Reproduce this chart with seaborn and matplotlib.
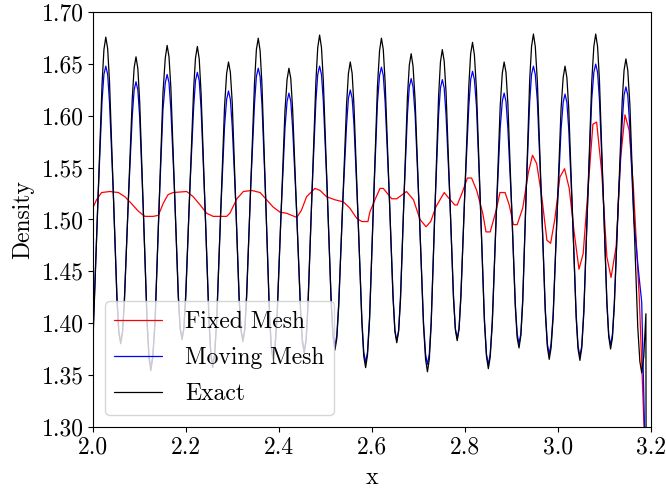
import matplotlib
matplotlib.use("Agg")
import matplotlib.pyplot as plt
import seaborn as sns

# Fixed mesh solution (red)
x_fixed = [2.000, 2.007, 2.018, 2.036, 2.054, 2.068, 2.083, 2.097, 2.111, 2.129,
           2.140, 2.151, 2.161, 2.172, 2.201, 2.215, 2.230, 2.244, 2.258, 2.287,
           2.294, 2.309, 2.323, 2.341, 2.359, 2.373, 2.387, 2.402, 2.416, 2.438,
           2.448, 2.459, 2.477, 2.488, 2.502, 2.520, 2.538, 2.552, 2.567, 2.578,
           2.591, 2.595, 2.606, 2.617, 2.624, 2.642, 2.653, 2.674, 2.689, 2.703,
           2.716, 2.726, 2.737, 2.755, 2.766, 2.778, 2.783, 2.793, 2.805, 2.814,
           2.825, 2.838, 2.845, 2.854, 2.867, 2.875, 2.886, 2.895, 2.904, 2.912,
           2.924, 2.936, 2.945, 2.954, 2.965, 2.976, 2.984, 2.993, 3.004, 3.014,
           3.024, 3.034, 3.045, 3.054, 3.065, 3.075, 3.083, 3.094, 3.105, 3.114,
           3.125, 3.135, 3.144, 3.153, 3.162, 3.175, 3.185, 3.187]
y_fixed = [1.512, 1.519, 1.526, 1.527, 1.526, 1.522, 1.515, 1.508, 1.503, 1.503,
           1.504, 1.516, 1.524, 1.526, 1.527, 1.522, 1.514, 1.506, 1.503, 1.503,
           1.506, 1.520, 1.527, 1.528, 1.526, 1.519, 1.512, 1.507, 1.506, 1.502,
           1.509, 1.522, 1.530, 1.528, 1.522, 1.519, 1.517, 1.511, 1.501, 1.498,
           1.498, 1.507, 1.519, 1.530, 1.530, 1.520, 1.520, 1.527, 1.519, 1.500,
           1.493, 1.498, 1.512, 1.526, 1.520, 1.514, 1.514, 1.525, 1.540, 1.540,
           1.528, 1.506, 1.488, 1.488, 1.509, 1.526, 1.526, 1.514, 1.495, 1.495,
           1.511, 1.545, 1.562, 1.554, 1.522, 1.480, 1.477, 1.500, 1.541, 1.549,
           1.530, 1.490, 1.452, 1.467, 1.532, 1.592, 1.594, 1.545, 1.464, 1.444,
           1.474, 1.561, 1.601, 1.586, 1.532, 1.422, 1.300, 1.250]

# moving mesh and exact share sample positions up to the last peak
x_wave = [2.000, 2.0105, 2.019, 2.023,
          2.027, 2.031, 2.035, 2.043, 2.051, 2.055,
          2.059, 2.063, 2.067, 2.0755, 2.084, 2.088,
          2.092, 2.096, 2.100, 2.108, 2.116, 2.120,
          2.124, 2.128, 2.133, 2.1415, 2.150, 2.155,
          2.159, 2.163, 2.167, 2.175, 2.183, 2.187,
          2.191, 2.195, 2.199, 2.2075, 2.216, 2.220,
          2.224, 2.228, 2.232, 2.2405, 2.249, 2.253,
          2.257, 2.261, 2.2655, 2.274, 2.2825, 2.287,
          2.291, 2.295, 2.299, 2.3065, 2.314, 2.318,
          2.322, 2.326, 2.330, 2.3385, 2.347, 2.351,
          2.355, 2.359, 2.363, 2.371, 2.379, 2.383,
          2.387, 2.391, 2.3955, 2.404, 2.4125, 2.417,
          2.421, 2.425, 2.429, 2.4375, 2.446, 2.450,
          2.454, 2.458, 2.462, 2.4705, 2.479, 2.483,
          2.487, 2.491, 2.495, 2.5035, 2.512, 2.516,
          2.520, 2.524, 2.528, 2.5365, 2.545, 2.549,
          2.553, 2.557, 2.561, 2.5695, 2.578, 2.582,
          2.586, 2.590, 2.5945, 2.603, 2.6115, 2.616,
          2.620, 2.624, 2.628, 2.6365, 2.645, 2.649,
          2.653, 2.657, 2.661, 2.6685, 2.676, 2.680,
          2.684, 2.688, 2.6925, 2.7015, 2.7105, 2.715,
          2.719, 2.723, 2.727, 2.735, 2.743, 2.747,
          2.751, 2.755, 2.759, 2.767, 2.775, 2.779,
          2.783, 2.787, 2.791, 2.7995, 2.808, 2.812,
          2.816, 2.820, 2.8245, 2.833, 2.8415, 2.846,
          2.850, 2.854, 2.8585, 2.867, 2.8755, 2.880,
          2.884, 2.888, 2.892, 2.900, 2.908, 2.912,
          2.916, 2.920, 2.924, 2.9315, 2.939, 2.943,
          2.947, 2.951, 2.9555, 2.964, 2.9725, 2.977,
          2.981, 2.985, 2.9895, 2.998, 3.0065, 3.011,
          3.015, 3.019, 3.023, 3.031, 3.039, 3.043,
          3.047, 3.051, 3.0555, 3.064, 3.0725, 3.077,
          3.081, 3.085, 3.089, 3.097, 3.105, 3.109,
          3.113, 3.117, 3.121, 3.1295, 3.138, 3.142,
          3.146]

y_exact_wave = [1.390, 1.523, 1.631, 1.664,
                1.676, 1.665, 1.633, 1.528, 1.423, 1.391,
                1.380, 1.3905, 1.420, 1.5185, 1.617, 1.6465,
                1.657, 1.6455, 1.613, 1.5055, 1.398, 1.3655,
                1.354, 1.366, 1.400, 1.511, 1.622, 1.656,
                1.668, 1.657, 1.627, 1.526, 1.425, 1.395,
                1.384, 1.395, 1.425, 1.5255, 1.626, 1.656,
                1.667, 1.655, 1.622, 1.512, 1.402, 1.369,
                1.357, 1.368, 1.400, 1.5045, 1.609, 1.641,
                1.652, 1.642, 1.613, 1.517, 1.421, 1.392,
                1.382, 1.393, 1.425, 1.5285, 1.632, 1.664,
                1.675, 1.663, 1.630, 1.5195, 1.409, 1.376,
                1.364, 1.375, 1.405, 1.505, 1.605, 1.635,
                1.646, 1.636, 1.606, 1.5085, 1.411, 1.381,
                1.371, 1.383, 1.416, 1.5245, 1.633, 1.666,
                1.678, 1.666, 1.634, 1.526, 1.418, 1.386,
                1.374, 1.385, 1.415, 1.513, 1.611, 1.641,
                1.652, 1.641, 1.609, 1.5045, 1.400, 1.368,
                1.357, 1.369, 1.403, 1.516, 1.629, 1.663,
                1.675, 1.664, 1.632, 1.528, 1.424, 1.392,
                1.381, 1.392, 1.422, 1.5205, 1.619, 1.649,
                1.660, 1.648, 1.615, 1.5065, 1.398, 1.365,
                1.353, 1.365, 1.398, 1.5085, 1.619, 1.652,
                1.664, 1.653, 1.623, 1.5235, 1.424, 1.394,
                1.383, 1.394, 1.425, 1.527, 1.629, 1.660,
                1.671, 1.659, 1.625, 1.5135, 1.402, 1.368,
                1.356, 1.367, 1.399, 1.504, 1.609, 1.641,
                1.652, 1.642, 1.612, 1.514, 1.416, 1.386,
                1.376, 1.388, 1.420, 1.5275, 1.635, 1.667,
                1.679, 1.667, 1.633, 1.522, 1.411, 1.377,
                1.365, 1.376, 1.406, 1.5065, 1.607, 1.637,
                1.648, 1.637, 1.607, 1.506, 1.405, 1.375,
                1.364, 1.376, 1.410, 1.5215, 1.633, 1.667,
                1.679, 1.667, 1.635, 1.527, 1.419, 1.387,
                1.375, 1.386, 1.416, 1.515, 1.614, 1.644,
                1.655]

y_moving_wave = [1.395, 1.523, 1.615, 1.640,
                 1.648, 1.640, 1.613, 1.528, 1.426, 1.392,
                 1.382, 1.392, 1.423, 1.5185, 1.600, 1.625,
                 1.633, 1.625, 1.598, 1.5055, 1.401, 1.368,
                 1.358, 1.368, 1.403, 1.511, 1.606, 1.632,
                 1.640, 1.632, 1.606, 1.526, 1.428, 1.395,
                 1.385, 1.395, 1.428, 1.5255, 1.608, 1.634,
                 1.642, 1.634, 1.607, 1.512, 1.405, 1.370,
                 1.360, 1.370, 1.403, 1.5045, 1.590, 1.616,
                 1.624, 1.616, 1.590, 1.517, 1.424, 1.394,
                 1.384, 1.394, 1.428, 1.5285, 1.612, 1.638,
                 1.646, 1.638, 1.611, 1.5195, 1.412, 1.378,
                 1.368, 1.378, 1.408, 1.505, 1.588, 1.614,
                 1.622, 1.614, 1.588, 1.5085, 1.414, 1.384,
                 1.374, 1.384, 1.419, 1.5245, 1.614, 1.640,
                 1.648, 1.640, 1.614, 1.526, 1.421, 1.388,
                 1.378, 1.388, 1.418, 1.513, 1.591, 1.617,
                 1.625, 1.617, 1.591, 1.5045, 1.403, 1.372,
                 1.362, 1.372, 1.406, 1.516, 1.613, 1.639,
                 1.647, 1.639, 1.613, 1.528, 1.427, 1.393,
                 1.383, 1.393, 1.425, 1.5205, 1.602, 1.628,
                 1.636, 1.628, 1.601, 1.5065, 1.401, 1.370,
                 1.360, 1.370, 1.401, 1.5085, 1.601, 1.627,
                 1.635, 1.627, 1.601, 1.5235, 1.427, 1.395,
                 1.385, 1.395, 1.428, 1.527, 1.609, 1.635,
                 1.643, 1.635, 1.609, 1.5135, 1.405, 1.370,
                 1.360, 1.370, 1.402, 1.504, 1.588, 1.614,
                 1.622, 1.614, 1.588, 1.514, 1.419, 1.390,
                 1.380, 1.390, 1.423, 1.5275, 1.614, 1.640,
                 1.648, 1.640, 1.614, 1.522, 1.414, 1.380,
                 1.370, 1.380, 1.409, 1.5065, 1.587, 1.613,
                 1.621, 1.613, 1.587, 1.506, 1.408, 1.378,
                 1.368, 1.378, 1.413, 1.5215, 1.616, 1.642,
                 1.650, 1.642, 1.616, 1.527, 1.422, 1.389,
                 1.379, 1.389, 1.419, 1.515, 1.594, 1.620,
                 1.628]

# tails past the last peak (they differ)
x_exact_tail = [3.150, 3.1545, 3.163, 3.1715, 3.176, 3.180, 3.1845, 3.189, 3.1895]
y_exact_tail = [1.644, 1.611, 1.5035, 1.396, 1.363, 1.352, 1.368, 1.409, 1.250]
x_moving_tail = [3.150, 3.1545, 3.163, 3.172, 3.180, 3.186, 3.188]
y_moving_tail = [1.620, 1.588, 1.500, 1.455, 1.420, 1.300, 1.250]

sns.set_style("ticks", rc={"axes.edgecolor": "black", "xtick.color": "black",
                           "ytick.color": "black", "text.color": "black",
                           "axes.labelcolor": "black"})
plt.rcParams.update({
    "font.family": ["cmr10", "DejaVu Serif"],
    "mathtext.fontset": "cm",
    "axes.formatter.use_mathtext": True,
    "font.size": 17,
    "xtick.direction": "out",
    "ytick.direction": "out",
})

fig, ax = plt.subplots(figsize=(6.66, 4.91), dpi=100)
fig.subplots_adjust(left=0.140, right=0.9775, top=0.975, bottom=0.131)

sns.lineplot(x=x_fixed, y=y_fixed, color="red", lw=0.9, sort=False,
             estimator=None, label="Fixed Mesh", ax=ax)
sns.lineplot(x=x_wave + x_moving_tail, y=y_moving_wave + y_moving_tail,
             color="blue", lw=0.9, sort=False, estimator=None,
             label="Moving Mesh", ax=ax)
sns.lineplot(x=x_wave + x_exact_tail, y=y_exact_wave + y_exact_tail,
             color="black", lw=0.9, sort=False, estimator=None,
             label="Exact", ax=ax)

ax.set_xlim(2.0, 3.2)
ax.set_ylim(1.30, 1.70)
ax.set_xticks([2.0, 2.2, 2.4, 2.6, 2.8, 3.0, 3.2])
ax.set_yticks([1.30, 1.35, 1.40, 1.45, 1.50, 1.55, 1.60, 1.65, 1.70])
ax.set_xticklabels(["2.0", "2.2", "2.4", "2.6", "2.8", "3.0", "3.2"])
ax.set_yticklabels(["1.30", "1.35", "1.40", "1.45", "1.50", "1.55", "1.60", "1.65", "1.70"])
ax.set_xlabel("x", labelpad=6)
ax.set_ylabel("Density", labelpad=5)
for s in ax.spines.values():
    s.set_visible(True)
    s.set_linewidth(0.8)

ax.legend(loc="lower left", fontsize=17, frameon=True, framealpha=0.8,
          edgecolor="0.8", fancybox=True, handletextpad=1.0, labelspacing=0.6)

plt.savefig("out.png", dpi=100)
plt.close()
